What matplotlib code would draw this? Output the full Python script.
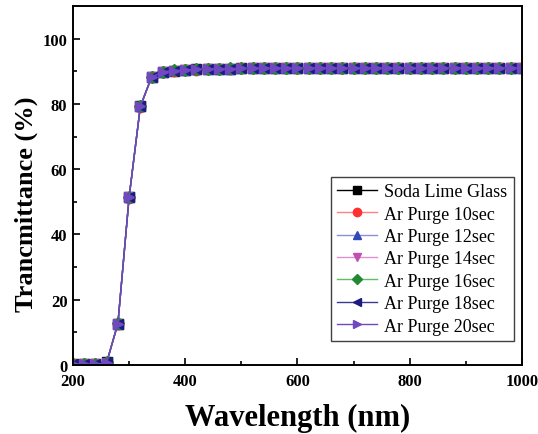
#!/usr/bin/env python3

import matplotlib
matplotlib.use("Agg")
import matplotlib.pyplot as plt

## DATA

wavelength = [200, 220, 240, 260, 280, 300, 320, 340, 360, 380, 400, 420, 440, 460, 480,
	500, 520, 540, 560, 580, 600, 620, 640, 660, 680, 700, 720, 740, 760, 780,
	800, 820, 840, 860, 880, 900, 920, 940, 960, 980, 1000]

soda_lime = [0.2, 0.3, 0.2, 0.8, 12.7, 51.4, 79.2, 88.2, 89.8, 90.2, 90.4, 90.6, 90.7, 90.8, 90.8,
	90.9, 90.9, 90.9, 91.0, 91.0, 91.0, 91.0, 91.0, 91.0, 91.0, 91.0, 91.0, 91.0, 91.0, 91.0,
	91.0, 91.0, 91.0, 91.0, 91.0, 91.0, 91.0, 91.0, 91.0, 91.0, 91.0]
purge_10 = [0.3, 0.2, 0.3, 0.7, 12.6, 51.3, 79.1, 88.1, 89.7, 90.2, 90.4, 90.5, 90.7, 90.7, 90.8,
	90.9, 90.9, 90.9, 90.9, 91.0, 91.0, 91.0, 91.0, 91.0, 91.0, 91.0, 91.0, 91.0, 91.0, 91.0,
	91.0, 91.0, 91.0, 91.0, 91.0, 91.0, 91.0, 91.0, 91.0, 91.0, 91.0]
purge_12 = [0.2, 0.3, 0.2, 0.8, 12.7, 51.5, 79.2, 88.2, 89.8, 90.3, 90.4, 90.6, 90.7, 90.8, 90.8,
	90.9, 90.9, 91.0, 91.0, 91.0, 91.0, 91.0, 91.0, 91.0, 91.0, 91.0, 91.0, 91.0, 91.0, 91.0,
	91.0, 91.0, 91.0, 91.0, 91.0, 91.0, 91.0, 91.0, 91.0, 91.0, 91.0]
purge_14 = [0.1, 0.3, 0.3, 0.7, 12.6, 51.4, 79.1, 88.1, 89.7, 90.2, 90.4, 90.5, 90.6, 90.7, 90.8,
	90.8, 90.9, 90.9, 90.9, 90.9, 91.0, 91.0, 91.0, 91.0, 91.0, 91.0, 91.0, 91.0, 91.0, 91.0,
	91.0, 91.0, 91.0, 91.0, 91.0, 91.0, 91.0, 91.0, 91.0, 91.0, 90.9]
purge_16 = [0.3, 0.2, 0.2, 0.8, 12.8, 51.5, 79.3, 88.3, 89.8, 90.3, 90.5, 90.6, 90.7, 90.8, 90.9,
	90.9, 90.9, 91.0, 91.0, 91.0, 91.0, 91.0, 91.0, 91.0, 91.0, 91.0, 91.0, 91.0, 91.0, 91.0,
	91.0, 91.0, 91.0, 91.0, 91.0, 91.0, 91.0, 91.0, 91.0, 91.0, 91.0]
purge_18 = [0.2, 0.2, 0.3, 0.8, 12.7, 51.4, 79.2, 88.2, 89.8, 90.2, 90.4, 90.6, 90.7, 90.7, 90.8,
	90.9, 90.9, 90.9, 91.0, 91.0, 91.0, 91.0, 91.0, 91.0, 91.0, 91.0, 91.0, 91.0, 91.0, 91.0,
	91.0, 91.0, 91.0, 91.0, 91.0, 91.0, 91.0, 91.0, 91.0, 91.0, 91.0]
purge_20 = [0.2, 0.3, 0.2, 0.7, 12.7, 51.4, 79.2, 88.2, 89.8, 90.2, 90.4, 90.6, 90.7, 90.8, 90.8,
	90.9, 90.9, 90.9, 91.0, 91.0, 91.0, 91.0, 91.0, 91.0, 91.0, 91.0, 91.0, 91.0, 91.0, 91.0,
	91.0, 91.0, 91.0, 91.0, 91.0, 91.0, 91.0, 91.0, 91.0, 91.0, 91.0]

labels = ["Soda Lime Glass", "Ar Purge 10sec", "Ar Purge 12sec", "Ar Purge 14sec",
	"Ar Purge 16sec", "Ar Purge 18sec", "Ar Purge 20sec"]
series = [soda_lime, purge_10, purge_12, purge_14, purge_16, purge_18, purge_20]
colors = ["#000000", "#ff3030", "#3048b8", "#c050b0", "#208a30", "#1c1c80", "#7048c0"]
line_colors = ["#000000", "#ff8080", "#8890d8", "#e090d0", "#60c060", "#3a3a90", "#7048c0"]
markers = ["s", "o", "^", "v", "D", "<", ">"]

## PLOT

plt.rcParams["font.family"] = ["Liberation Serif", "DejaVu Serif"]

fig = plt.figure(figsize = (5.38, 4.35), dpi = 100)
ax = fig.add_axes([0.1357, 0.1586, 0.8343, 0.8254])

for ys, label, c, lc, m in zip(series, labels, colors, line_colors, markers):
	ms = 6 if m == "D" else 7.5
	ax.plot(wavelength, ys, "-", color = lc, lw = 1, marker = m, ms = ms,
		mfc = c, mec = c, label = label)

ax.set_xlim(200, 1000)
ax.set_ylim(0, 110)
ax.set_xticks([200, 400, 600, 800, 1000])
ax.set_xticks([300, 500, 700, 900], minor = True)
ax.set_yticks([0, 20, 40, 60, 80, 100])
ax.set_yticks([10, 30, 50, 70, 90], minor = True)
ax.tick_params(which = "both", direction = "in", top = False, right = False, width = 1.2)
ax.tick_params(which = "major", length = 5, labelsize = 12)
ax.tick_params(axis = "x", which = "major", pad = 6)
ax.tick_params(axis = "y", which = "major", pad = 4)
ax.tick_params(which = "minor", length = 3)
for lab in ax.get_xticklabels() + ax.get_yticklabels():
	lab.set_fontweight("bold")
for sp in ax.spines.values():
	sp.set_linewidth(1.4)

ax.set_xlabel("Wavelength (nm)", fontsize = 22, fontweight = "bold", labelpad = 10)
ax.set_ylabel("Trancmittance (%)", fontsize = 19, fontweight = "bold")
ax.yaxis.set_label_coords(-0.078, 0.45)

leg = ax.legend(loc = "lower right", bbox_to_anchor = (0.982, 0.067), fontsize = 13,
	fancybox = False, edgecolor = "#404040", framealpha = 1, borderpad = 0.35,
	labelspacing = 0.3, handlelength = 2.2, handletextpad = 0.4, borderaxespad = 0,
	markerscale = 0.8)
leg.get_frame().set_linewidth(1.0)

fig.savefig("out.png", dpi = 100)
